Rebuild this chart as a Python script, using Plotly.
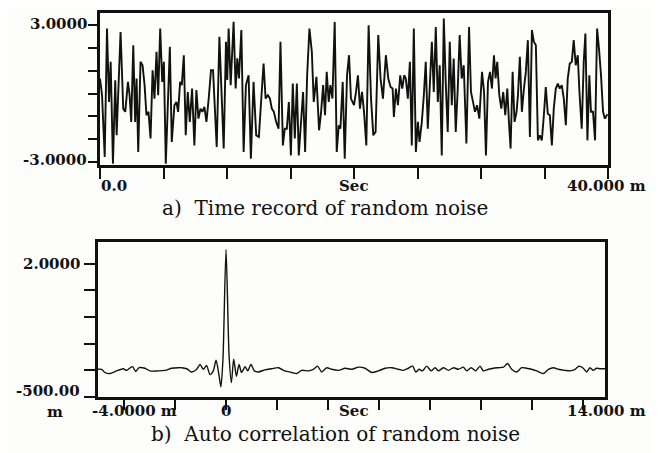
import plotly.graph_objects as go

# a) time record of random noise (ms, amplitude)
seg1_t = [0.0, 0.16, 0.37, 0.55, 0.71, 0.84, 1.02, 1.20, 1.31, 1.47, 1.62, 1.83, 1.99, 2.20, 2.33, 2.46,
          2.62, 2.77, 2.88, 3.01, 3.19, 3.35, 3.51, 3.66, 3.82, 3.98, 4.14, 4.29, 4.45, 4.58, 4.74, 4.90,
          5.03, 5.18, 5.34, 5.50, 5.65, 5.86, 6.02, 6.15, 6.31, 6.44, 6.60, 6.75, 6.91, 7.07, 7.25, 7.43,
          7.59, 7.75, 7.91, 8.06, 8.22, 8.38, 8.56, 8.74, 8.90, 9.06, 9.19, 9.40, 9.58, 9.74, 9.92, 10.02]
seg1_v = [0.66, -0.07, -2.78, 2.85, -0.37, 1.39, -3.07, 0.58, -1.83, 0.22, 2.70, -0.66, -0.80, 0.51, -0.07, -1.24,
          2.12, -1.24, 0.66, -2.56, 1.39, 1.24, 0.37, -0.95, -0.80, -1.97, 1.02, -0.22, 1.83, -0.07, 2.85, 0.51,
          1.39, -3.07, 0.07, 2.05, -2.12, -0.51, -0.37, -0.80, 0.51, 0.37, 1.68, -1.83, 0.07, -1.24, 0.22, -2.27,
          0.15, -1.10, -0.66, -0.80, -0.58, -1.24, -0.22, 1.02, 1.02, -0.80, -2.34, 2.49, 0.22, -2.41, 2.27, 0.60]

seg2_t = [10.13, 10.29, 10.52, 10.68, 10.81, 10.94, 11.13, 11.31, 11.49, 11.70, 11.88, 12.09, 12.30, 12.51,
          12.70, 12.88, 13.04, 13.22, 13.38, 13.53, 13.69, 13.87, 14.06, 14.21, 14.40, 14.55, 14.71, 14.87,
          15.03, 15.18, 15.34, 15.50, 15.65, 15.84, 15.99, 16.15, 16.31, 16.49, 16.68, 16.83, 17.04, 17.25,
          17.41, 17.57, 17.72, 17.85, 18.01, 18.14, 18.30, 18.48, 18.64, 18.80, 18.93, 19.11, 19.27, 19.45,
          19.61, 19.76]
seg2_v = [2.85, 0.37, 3.14, 0.22, 1.54, 0.66, 2.78, -2.56, 0.37, 0.80, -2.85, 0.51, -1.83, -1.90,
          -0.22, 1.32, -0.22, -0.07, -0.22, -0.66, -0.80, -1.24, -1.54, 2.27, -2.27, -1.54, -1.54, -0.37,
          -2.71, 0.44, -1.97, 0.44, -2.71, -0.95, 0.07, -2.56, 0.80, 2.85, 1.83, -0.37, 0.73, -1.61,
          -0.80, 0.37, -0.95, 0.95, -0.37, 0.37, -0.22, 3.14, -2.56, -1.39, -1.54, 0.51, -2.85, 0.80,
          1.68, -0.22]

seg3_t = [20.0, 20.16, 20.31, 20.47, 20.63, 20.79, 20.97, 21.15, 21.34, 21.52, 21.70, 21.91, 22.09, 22.28,
          22.51, 22.70, 22.88, 23.04, 23.14, 23.30, 23.46, 23.64, 23.80, 23.95, 24.08, 24.24, 24.40, 24.55,
          24.71, 24.87, 25.03, 25.16, 25.34, 25.50, 25.65, 25.81, 25.97, 26.13, 26.28, 26.44, 26.60, 26.75,
          26.91, 27.07, 27.23, 27.38, 27.54, 27.70, 27.85, 28.01, 28.17, 28.32, 28.48, 28.64, 28.85, 29.06,
          29.21, 29.37, 29.53, 29.69, 29.87]
seg3_v = [-0.51, 0.07, 0.80, -0.66, 0.07, -0.80, -2.27, 2.99, -0.22, -1.83, -1.68, 2.56, 0.66, -0.22,
          1.68, 0.66, 0.29, 0.22, -1.02, 0.22, -0.51, 0.80, 0.22, 0.80, 0.66, -0.22, 1.39, -2.27,
          2.85, -2.56, -1.24, -2.12, -1.24, -0.07, 1.39, -1.54, 0.66, 2.27, 0.07, 2.92, -0.37, 1.24,
          -2.71, 3.29, 0.37, -1.68, 2.27, -0.51, 1.54, -1.68, 0.22, 2.56, 0.66, 1.24, -2.19, 2.92,
          0.07, -0.37, -0.80, -0.51, -1.10]

seg4_t = [30.08, 30.24, 30.39, 30.55, 30.71, 30.86, 31.02, 31.15, 31.28, 31.44, 31.60, 31.75, 31.91, 32.07,
          32.20, 32.33, 32.49, 32.64, 32.80, 32.91, 33.06, 33.22, 33.38, 33.53, 33.69, 33.85, 34.01, 34.16,
          34.32, 34.48, 34.63, 34.79, 34.95, 35.10, 35.26, 35.42, 35.58, 35.73, 35.89, 36.05, 36.20, 36.36,
          36.52, 36.68, 36.83, 36.99, 37.15, 37.30, 37.46, 37.62, 37.75, 37.93, 38.09, 38.22, 38.38, 38.53,
          38.66, 38.82, 38.98, 39.14, 39.29, 39.45, 39.61, 39.76, 39.95]
seg4_v = [0.95, 0.07, -2.71, 0.51, 0.95, 0.22, 1.68, 0.66, 1.39, -0.07, -0.66, 0.07, -0.95, 0.22,
          -1.24, -2.41, 0.95, -1.24, -0.80, -0.07, 1.61, -0.80, 0.22, 0.95, 2.34, -1.90, 2.78, 2.27,
          2.12, -2.05, -1.83, -2.05, -0.95, 0.29, -0.88, -0.95, -2.27, -0.66, 0.22, 0.44, 0.22, 0.37,
          -0.22, -1.39, 0.66, 1.32, 1.39, 2.34, 1.24, 1.68, 0.07, -1.54, 1.39, 2.63, -2.05, 0.80,
          -0.80, -0.80, -2.05, 2.85, 1.97, 0.80, -0.80, -1.10, -0.90]

noise_t = seg1_t + seg2_t + seg3_t + seg4_t
noise_v = seg1_v + seg2_v + seg3_v + seg4_v
assert len(noise_t) == len(noise_v)

# b) auto correlation (lag ms, value)
lag_t = [-5.02, -4.88, -4.75, -4.55, -4.29, -4.03, -3.90, -3.67, -3.54, -3.41, -3.18, -2.98, -2.65, -2.39,
         -2.13, -1.87, -1.74, -1.54, -1.35, -1.15, -1.02, -0.89, -0.76, -0.63, -0.50, -0.39, -0.27, -0.20,
         -0.12, 0.0, 0.12, 0.21, 0.30, 0.41, 0.51, 0.61, 0.75, 0.85, 0.98, 1.11, 1.27, 1.53, 1.79, 2.05,
         2.31, 2.58, 2.77, 2.97, 3.23, 3.42, 3.59, 3.75, 3.95, 4.14, 4.41, 4.67, 4.93, 5.19, 5.45, 5.71,
         5.97, 6.24, 6.50, 6.76, 6.95, 7.15, 7.32, 7.44, 7.57, 7.70, 7.87, 8.04, 8.20, 8.33, 8.52, 8.72,
         8.92, 9.11, 9.31, 9.44, 9.61, 9.79, 9.96, 10.09, 10.29, 10.48, 10.68, 10.88, 11.04, 11.20, 11.40,
         11.59, 11.78, 11.98, 12.18, 12.44, 12.64, 12.84, 13.03, 13.29, 13.49, 13.69, 13.84, 14.01, 14.14,
         14.27, 14.40, 14.53, 14.67, 14.86]
lag_v = [0.02, 0.02, -0.04, -0.06, -0.01, 0.03, 0.0, 0.07, -0.02, 0.05, 0.04, -0.01, -0.01, 0.0,
         0.04, 0.05, 0.05, 0.03, -0.03, 0.02, 0.11, 0.02, 0.09, -0.08, -0.01, 0.19, -0.11, -0.31,
         0.21, 2.27, 0.27, -0.23, 0.21, -0.11, 0.11, -0.04, 0.07, -0.01, 0.11, -0.01, -0.03, 0.01, 0.03, 0.05,
         -0.01, -0.04, -0.06, 0.0, -0.01, 0.02, 0.08, -0.03, 0.05, 0.02, 0.0, 0.04, 0.02, 0.06, 0.04, -0.04,
         -0.01, 0.04, 0.05, 0.02, 0.0, 0.04, 0.08, -0.03, 0.02, -0.01, 0.08, -0.01, 0.05, -0.01, 0.05, 0.0,
         0.05, 0.02, 0.06, -0.01, 0.05, -0.01, 0.08, -0.01, 0.02, 0.04, 0.05, 0.06, 0.13, 0.02, -0.03,
         0.05, 0.04, 0.02, -0.01, -0.06, 0.02, 0.05, 0.02, 0.0, -0.01, 0.02, 0.08, 0.04, -0.03,
         0.05, 0.0, 0.04, 0.03, 0.03]
assert len(lag_t) == len(lag_v)

# the page body adds an 8px margin, so the figure is 8px smaller and shifted
OFF = 8
W, H = 660 - OFF, 453 - OFF
INK = "#111111"
TICKFONT = dict(family="DejaVu Serif", size=15, color=INK, weight="bold")
TITLEFONT = dict(family="DejaVu Serif", size=20, color=INK)


def px(x):
    return (x - OFF) / W


def py(y):
    return 1 - (y - OFF) / H


fig = go.Figure()
fig.add_trace(go.Scatter(x=noise_t, y=noise_v, mode="lines", line=dict(color=INK, width=1.9),
                         xaxis="x", yaxis="y", showlegend=False))
fig.add_trace(go.Scatter(x=lag_t, y=lag_v, mode="lines",
                         line=dict(color=INK, width=1.4, shape="spline", smoothing=0.7),
                         xaxis="x2", yaxis="y2", showlegend=False))

frame = dict(showline=True, linecolor=INK, linewidth=2.8, mirror=True, showgrid=False, zeroline=False,
             ticks="outside", tickcolor=INK, tickwidth=1.6, showticklabels=False,
             automargin=False, fixedrange=True)

fig.update_layout(
    width=W, height=H,
    margin=dict(l=0, r=0, t=0, b=0),
    paper_bgcolor="#fdfdfb", plot_bgcolor="#fdfdfb",
    xaxis=dict(frame, domain=[px(100), px(608)], range=[0, 40], anchor="y",
               tickvals=[0, 5, 10, 15, 20, 25, 30, 35, 40], ticklen=11),
    yaxis=dict(frame, domain=[py(165), py(13)], range=[-3.13, 3.53], anchor="x",
               tickvals=[-3, -2, -1, 0, 1, 2, 3], ticklen=9),
    xaxis2=dict(frame, domain=[px(98), px(605)], range=[-5.02, 14.86], anchor="y2",
                tickvals=[-4, -2, 0, 2, 4, 6, 8, 10, 12, 14], ticklen=10),
    yaxis2=dict(frame, domain=[py(397), py(242)], range=[-0.5, 2.41], anchor="x2",
                tickvals=[-0.5, 0, 0.5, 1.0, 1.5, 2.0], ticklen=11),
)

# tick labels placed as in the original artwork
labels = [
    ("3.0000", 89, 24, "right", TICKFONT),
    ("-3.0000", 89, 160, "right", TICKFONT),
    ("0.0", 99, 186, "left", TICKFONT),
    ("Sec", 354, 186, "center", TICKFONT),
    ("40.000 m", 565, 186, "left", TICKFONT),
    ("2.0000", 82, 264, "right", TICKFONT),
    ("-500.00", 82, 391, "right", TICKFONT),
    ("m", 55, 412, "center", TICKFONT),
    ("-4.0000 m", 90, 411, "left", TICKFONT),
    ("0", 226, 411, "center", TICKFONT),
    ("Sec", 354, 411, "center", TICKFONT),
    ("14.000 m", 565, 411, "left", TICKFONT),
    ("a)  Time record of random noise", 325, 208, "center", TITLEFONT),
    ("b)  Auto correlation of random noise", 335, 434, "center", TITLEFONT),
]
for text, x, y, anchor, font in labels:
    fig.add_annotation(text=text, x=px(x), y=py(y), xref="paper", yref="paper",
                       xanchor=anchor, yanchor="middle", showarrow=False, font=font)

fig.write_html("out.html")
